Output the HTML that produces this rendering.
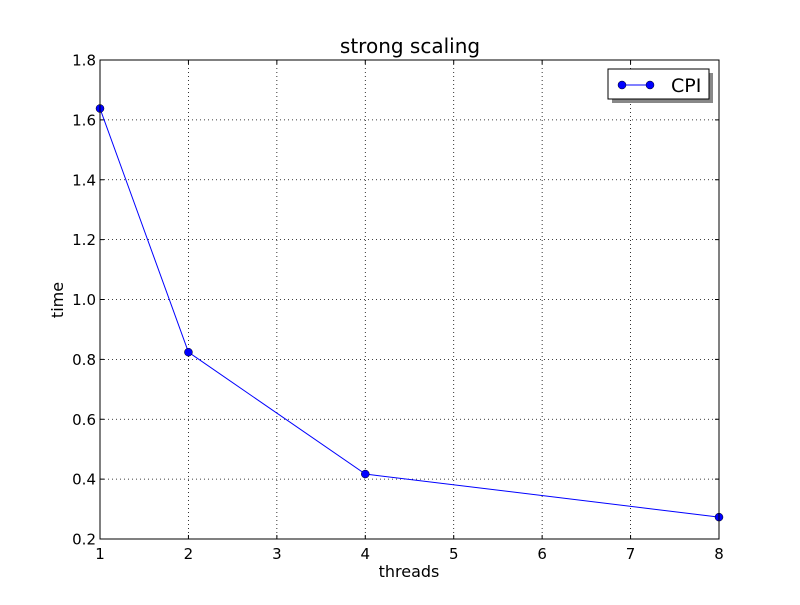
<!DOCTYPE html>
<html><head><meta charset="utf-8"><style>
html,body{margin:0;padding:0;background:#fff;}
svg text{font-family:"DejaVu Sans","Liberation Sans",sans-serif;}
</style></head><body>
<svg id="chart" width="800" height="600" xmlns="http://www.w3.org/2000/svg">
<rect width="800" height="600" fill="#fff"/>
<g id="grid"></g>
<g id="ticks"></g>
<g id="series"></g>
<rect x="100" y="60" width="619" height="479" fill="none" stroke="#000" stroke-width="1"/>
<text x="410" y="53" font-size="20" text-anchor="middle">strong scaling</text>
<text x="409" y="577" font-size="16" text-anchor="middle">threads</text>
<text x="63" y="300" font-size="16" text-anchor="middle" transform="rotate(-90 63 300)">time</text>
<g>
<rect x="612" y="73" width="101" height="30" fill="#888"/>
<rect x="608" y="69" width="101" height="30" fill="#fff" stroke="#000"/>
<line x1="622" y1="85" x2="650" y2="85" stroke="#0000ff"/>
<circle cx="622" cy="85" r="4" fill="#0000ff" stroke="#000" stroke-width="0.5"/>
<circle cx="650" cy="85" r="4" fill="#0000ff" stroke="#000" stroke-width="0.5"/>
<text x="671" y="92" font-size="19">CPI</text>
</g>
</svg>
<script>
const threads=[1,2,4,8];
const cpiTime=[1.638,0.824,0.417,0.273];
const xTicks=[1,2,3,4,5,6,7,8];
const yTicks=[0.2,0.4,0.6,0.8,1.0,1.2,1.4,1.6,1.8];
const NS="http://www.w3.org/2000/svg";
const L=100,R=719,T=60,B=539;
const xs=v=>L+(v-1)/7*(R-L);
const ys=v=>B-(v-0.2)/1.6*(B-T);
function mk(tag,attrs,parent){const e=document.createElementNS(NS,tag);for(const k in attrs)e.setAttribute(k,attrs[k]);parent.appendChild(e);return e;}
const grid=document.getElementById('grid'),ticks=document.getElementById('ticks'),ser=document.getElementById('series');
xTicks.forEach(t=>{const x=xs(t);
 const g=mk('line',{x1:x,x2:x,y1:T,y2:B,stroke:'#000','stroke-dasharray':'1,3','stroke-width':0.8},grid);
 
 
 mk('line',{x1:x,x2:x,y1:B,y2:B-4,stroke:'#000'},ticks);
 mk('line',{x1:x,x2:x,y1:T,y2:T+4,stroke:'#000'},ticks);
 const tx=mk('text',{x:x,y:B+20,'font-size':15,'text-anchor':'middle'},ticks);tx.textContent=t;
 
 
});
yTicks.forEach(t=>{const y=ys(t);
 const g=mk('line',{x1:L,x2:R,y1:y,y2:y,stroke:'#000','stroke-dasharray':'1,3','stroke-width':0.8},grid);
 
 
 mk('line',{x1:L,x2:L+4,y1:y,y2:y,stroke:'#000'},ticks);
 mk('line',{x1:R,x2:R-4,y1:y,y2:y,stroke:'#000'},ticks);
 const tx=mk('text',{x:L-4,y:y+5.5,'font-size':15,'text-anchor':'end'},ticks);tx.textContent=t.toFixed(1);
 
 
});
const pl=mk('polyline',{points:threads.map((t,i)=>xs(t)+','+ys(cpiTime[i])).join(' '),fill:'none',stroke:'#0000ff','stroke-width':1},ser);


threads.forEach((t,i)=>{const c=mk('circle',{cx:xs(t),cy:ys(cpiTime[i]),r:4,fill:'#0000ff',stroke:'#000','stroke-width':0.5},ser);
 
 
});
</script>
</body></html>
